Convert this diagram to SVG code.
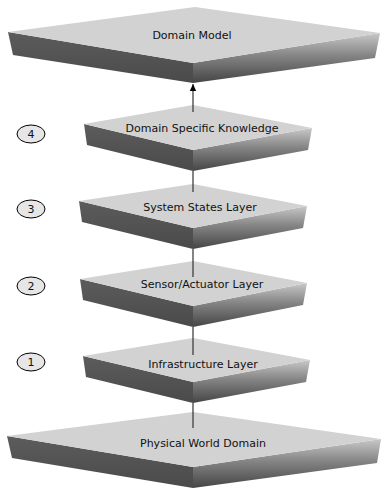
<svg xmlns="http://www.w3.org/2000/svg" width="381" height="490" viewBox="0 0 381 490">
<defs>
<linearGradient id="gl" x1="0" y1="0" x2="0" y2="1">
<stop offset="0" stop-color="#5c5c5c"/>
<stop offset="1" stop-color="#4a4a4a"/>
</linearGradient>
<linearGradient id="gr" x1="0" y1="0" x2="0" y2="1">
<stop offset="0" stop-color="#c8c8c8"/>
<stop offset="0.45" stop-color="#858585"/>
<stop offset="1" stop-color="#454545"/>
</linearGradient>
<marker id="arr" markerWidth="8" markerHeight="8" refX="7" refY="4" orient="auto" markerUnits="userSpaceOnUse">
<path d="M0,0.8 L7,4 L0,7.2 Z" fill="#000"/>
</marker>
</defs>
<style>
.top{fill:#d2d2d2;}
.lf{fill:url(#gl);}
.rf{fill:url(#gr);}
.lbl{font-family:"DejaVu Sans",sans-serif;font-size:11px;fill:#111;text-anchor:middle;}
.num{font-family:"DejaVu Sans",sans-serif;font-size:11px;fill:#111;text-anchor:middle;}
.ell{fill:#e6e6e6;stroke:#000;stroke-width:1;}
.con{stroke:#333;stroke-width:1.2;fill:none;}
</style>

<g id="domain-model">
<polygon class="lf" points="8,32 193,63 193,83 13,55"/>
<polygon class="rf" points="193,63 380,33 375,58 193,83"/>
<polygon class="top" points="195,7 380,33 193,63 8,32"/>
<text class="lbl" x="192" y="39">Domain Model</text>
</g>

<g id="domain-specific-knowledge">
<polygon class="lf" points="84,124 193,150 193,171 87,145"/>
<polygon class="rf" points="193,150 312,128 308,150 193,171"/>
<polygon class="top" points="193,105 312,128 193,150 84,124"/>
<text class="lbl" x="202" y="132">Domain Specific Knowledge</text>
</g>

<g id="system-states-layer">
<polygon class="lf" points="79,201 193,228 193,249 82,222"/>
<polygon class="rf" points="193,228 307,206 303,228 193,249"/>
<polygon class="top" points="193,184 307,206 193,228 79,201"/>
<text class="lbl" x="200" y="211">System States Layer</text>
</g>

<g id="sensor-actuator-layer">
<polygon class="lf" points="80,279 193,306 193,327 83,300"/>
<polygon class="rf" points="193,306 307,283 303,305 193,327"/>
<polygon class="top" points="193,261 307,283 193,306 80,279"/>
<text class="lbl" x="202" y="288">Sensor/Actuator Layer</text>
</g>

<g id="infrastructure-layer">
<polygon class="lf" points="83,356 193,382 193,403 86,377"/>
<polygon class="rf" points="193,382 310,360 306,382 193,403"/>
<polygon class="top" points="193,338 310,360 193,382 83,356"/>
<text class="lbl" x="203" y="368">Infrastructure Layer</text>
</g>

<g id="physical-world-domain">
<polygon class="lf" points="7,436 193,467 193,488 12,458"/>
<polygon class="rf" points="193,467 381,439 377,463 193,488"/>
<polygon class="top" points="193,412 381,439 193,467 7,436"/>
<text class="lbl" x="203" y="447">Physical World Domain</text>
</g>

<g id="connectors">
<line class="con" x1="193" y1="112" x2="193" y2="84" marker-end="url(#arr)"/>
<line class="con" x1="193" y1="171" x2="193" y2="192"/>
<line class="con" x1="193" y1="249" x2="193" y2="277"/>
<line class="con" x1="193" y1="327" x2="193" y2="355"/>
<line class="con" x1="193" y1="403" x2="193" y2="428"/>
</g>

<g id="step-4"><ellipse class="ell" cx="31" cy="134" rx="14" ry="9"/><text class="num" x="31" y="138">4</text></g>
<g id="step-3"><ellipse class="ell" cx="31" cy="209" rx="14" ry="9"/><text class="num" x="31" y="213">3</text></g>
<g id="step-2"><ellipse class="ell" cx="31" cy="286" rx="14" ry="9"/><text class="num" x="31" y="290">2</text></g>
<g id="step-1"><ellipse class="ell" cx="31" cy="362" rx="14" ry="9"/><text class="num" x="31" y="366">1</text></g>
</svg>
